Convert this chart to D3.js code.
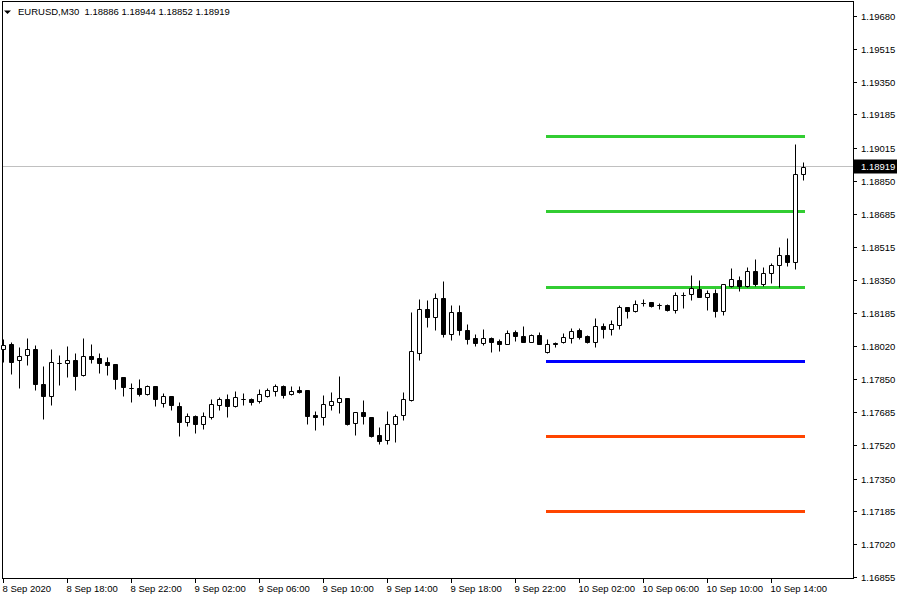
<!DOCTYPE html>
<html><head><meta charset="utf-8">
<script src="https://cdn.jsdelivr.net/npm/d3@7"></script>
<style>body{margin:0;background:#fff}svg{display:block;font-family:"Liberation Sans",Arial,sans-serif}</style>
</head><body><svg id="c" width="900" height="600"></svg>
<script>
const symbol = "EURUSD,M30";
const opens  = [1.18003,1.18028,1.17946,1.17971,1.18003,1.17827,1.17768,1.17933,1.17931,1.17948,1.17874,1.17968,1.17958,1.17939,1.17929,1.17862,1.17808,1.17807,1.17778,1.17817,1.17733,1.17766,1.17716,1.17637,1.17667,1.17624,1.17662,1.17723,1.17751,1.17718,1.17753,1.17751,1.17743,1.17768,1.17793,1.17818,1.17776,1.17797,1.17797,1.17672,1.17659,1.17723,1.17738,1.17756,1.17629,1.17684,1.17661,1.17568,1.17543,1.17624,1.17669,1.17746,1.17984,1.18204,1.18166,1.18260,1.18080,1.18189,1.18099,1.18058,1.18035,1.18058,1.18043,1.18030,1.18089,1.18068,1.18040,1.18074,1.17990,1.18035,1.18040,1.18057,1.18099,1.18068,1.18037,1.18119,1.18105,1.18125,1.18215,1.18196,1.18236,1.18240,1.18225,1.18225,1.18199,1.18277,1.18279,1.18305,1.18266,1.18284,1.18196,1.18320,1.18349,1.18320,1.18396,1.18329,1.18384,1.18425,1.18475,1.18443,1.18886];
const highs  = [1.18053,1.18038,1.18013,1.18058,1.18023,1.17917,1.18003,1.17973,1.18018,1.17983,1.18058,1.18028,1.17983,1.17963,1.17929,1.17862,1.17832,1.17852,1.17822,1.17817,1.17781,1.17766,1.17736,1.17679,1.17672,1.17687,1.17751,1.17761,1.17776,1.17792,1.17781,1.17756,1.17802,1.17807,1.17827,1.17822,1.17817,1.17817,1.17797,1.17689,1.17771,1.17787,1.17867,1.17756,1.17684,1.17746,1.17661,1.17609,1.17689,1.17674,1.17785,1.18189,1.18255,1.18250,1.18285,1.18346,1.18225,1.18225,1.18129,1.18079,1.18104,1.18063,1.18053,1.18099,1.18099,1.18119,1.18079,1.18089,1.18052,1.18040,1.18085,1.18107,1.18110,1.18073,1.18158,1.18135,1.18151,1.18225,1.18215,1.18250,1.18253,1.18240,1.18236,1.18230,1.18290,1.18292,1.18376,1.18351,1.18300,1.18304,1.18330,1.18412,1.18371,1.18417,1.18456,1.18415,1.18438,1.18515,1.18561,1.19035,1.18944];
const lows   = [1.17938,1.17877,1.17808,1.17924,1.17798,1.17649,1.17723,1.17823,1.17864,1.17798,1.17869,1.17934,1.17884,1.17874,1.17803,1.17768,1.17738,1.17768,1.17771,1.17718,1.17712,1.17697,1.17566,1.17617,1.17582,1.17602,1.17652,1.17697,1.17662,1.17712,1.17723,1.17723,1.17733,1.17761,1.17768,1.17758,1.17771,1.17780,1.17624,1.17597,1.17619,1.17694,1.17679,1.17622,1.17572,1.17627,1.17561,1.17526,1.17526,1.17536,1.17644,1.17741,1.17948,1.18115,1.18100,1.18065,1.18050,1.18075,1.18030,1.18020,1.18025,1.17990,1.17994,1.18028,1.18045,1.18040,1.18038,1.18030,1.17981,1.18012,1.18032,1.18035,1.18055,1.18032,1.18012,1.18057,1.18075,1.18105,1.18158,1.18191,1.18220,1.18213,1.18206,1.18193,1.18183,1.18212,1.18250,1.18266,1.18199,1.18166,1.18174,1.18317,1.18297,1.18317,1.18322,1.18322,1.18337,1.18317,1.18421,1.18404,1.18852];
const closes = [1.18023,1.17939,1.17968,1.18002,1.17825,1.17768,1.17936,1.17933,1.17946,1.17869,1.17968,1.17954,1.17934,1.17924,1.17853,1.17813,1.17808,1.17778,1.17817,1.17753,1.17766,1.17723,1.17637,1.17667,1.17624,1.17667,1.17726,1.17751,1.17718,1.17761,1.17753,1.17736,1.17776,1.17797,1.17817,1.17773,1.17793,1.17787,1.17667,1.17659,1.17726,1.17741,1.17756,1.17627,1.17684,1.17664,1.17566,1.17541,1.17625,1.17664,1.17750,1.17993,1.18204,1.18166,1.18260,1.18080,1.18189,1.18100,1.18055,1.18035,1.18057,1.18040,1.18030,1.18084,1.18070,1.18040,1.18074,1.18030,1.18027,1.18027,1.18062,1.18094,1.18065,1.18037,1.18119,1.18105,1.18129,1.18215,1.18196,1.18230,1.18234,1.18220,1.18225,1.18198,1.18275,1.18277,1.18309,1.18266,1.18284,1.18196,1.18329,1.18354,1.18320,1.18396,1.18330,1.18384,1.18425,1.18475,1.18443,1.18886,1.18919];
const priceTicks = [1.19680,1.19515,1.19350,1.19185,1.19015,1.18850,1.18685,1.18515,1.18350,1.18185,1.18020,1.17850,1.17685,1.17520,1.17350,1.17185,1.17020,1.16855];
const timeTickIndex = [0,8,16,24,32,40,48,56,64,72,80,88,96];
const timeTickLabels = ["8 Sep 2020","8 Sep 18:00","8 Sep 22:00","9 Sep 02:00","9 Sep 06:00","9 Sep 10:00","9 Sep 14:00","9 Sep 18:00","9 Sep 22:00","10 Sep 02:00","10 Sep 06:00","10 Sep 10:00","10 Sep 14:00"];
const levelValues = [1.19076,1.18698,1.18315,1.17943,1.17565,1.17187];
const levelNames  = ["R3","R2","R1","P","S1","S2"];
const levelColors = ["#32CD32","#32CD32","#32CD32","#0000FF","#FF4500","#FF4500"];
const levelStartIndex = 68;
const bidPrice = 1.18919;

const svg = d3.select("#c");
const n = opens.length;
const x = d3.scaleBand().domain(d3.range(n)).range([-1, -1 + 8*n]);
const cx = i => x(i) + x.bandwidth()/2;
const y = d3.scaleLinear().domain([1.16855, 1.19680]).range([577, 16]);
const py = v => Math.round(y(v)) + 0.5;
const fmt = d3.format(".5f");

const plotL = 2, plotT = 1, plotR = 853, plotB = 578;

// frame
svg.append("rect").attr("x", plotL+0.5).attr("y", plotT+0.5)
  .attr("width", plotR-plotL).attr("height", plotB-plotT)
  .attr("fill","none").attr("stroke","#000");

// bid line
svg.append("line").attr("x1", plotL+1).attr("x2", plotR).attr("y1", py(bidPrice)-1).attr("y2", py(bidPrice)-1)
  .attr("stroke","#C0C0C0").attr("stroke-width",1);

// pivot levels
const lv = svg.append("g");
levelValues.forEach((v,i) => {
  lv.append("line")
    .attr("x1", x(levelStartIndex)+3).attr("x2", x(n-1)+6)
    .attr("y1", py(v)).attr("y2", py(v))
    .attr("stroke", levelColors[i]).attr("stroke-width", 3)
    .attr("data-name", levelNames[i]);
});

// candles
const g = svg.append("g");
d3.range(n).forEach(i => {
  const c = Math.round(cx(i));
  g.append("line").attr("x1", c+0.5).attr("x2", c+0.5)
    .attr("y1", py(highs[i])).attr("y2", py(lows[i]))
    .attr("stroke","#000").attr("stroke-width",1);
  const t = py(Math.max(opens[i], closes[i])), b = py(Math.min(opens[i], closes[i]));
  const bull = closes[i] >= opens[i];
  const x0 = c - 1.5, x1 = c + 2.5;
  g.append("path").attr("d", `M${x0},${t}H${x1}V${b}H${x0}Z`)
    .attr("fill", bull ? "#fff" : "#000").attr("stroke","#000").attr("stroke-width",1);
});

// right axis
const ra = svg.append("g").attr("font-size", "9.5px").attr("fill","#000");
priceTicks.forEach(v => {
  const yy = Math.round(y(v)) + 0.5;
  ra.append("line").attr("x1", plotR).attr("x2", plotR+4).attr("y1", yy).attr("y2", yy).attr("stroke","#000");
  ra.append("text").attr("x", 861).attr("y", yy).attr("dy","0.35em").text(fmt(v));
});

// bid label
const by = py(bidPrice) - 1;
svg.append("rect").attr("x", plotR+1).attr("y", by-7).attr("width", 43).attr("height", 14).attr("fill","#000");
svg.append("text").attr("x", 861).attr("y", by).attr("dy","0.35em").attr("font-size","9.5px").attr("fill","#fff").text(fmt(bidPrice));

// bottom axis
const ba = svg.append("g").attr("font-size","9.5px").attr("fill","#000");
timeTickIndex.forEach((idx,k) => {
  const xx = Math.round(cx(idx)) + 0.5;
  ba.append("line").attr("x1", xx).attr("x2", xx).attr("y1", plotB).attr("y2", plotB+5).attr("stroke","#000");
  ba.append("text").attr("x", xx-1).attr("y", 592).text(timeTickLabels[k]);
});

// title
svg.append("path").attr("d","M4,10.5H11L7.5,14Z").attr("fill","#000");
svg.append("text").attr("x", 18).attr("y", 15).attr("font-size","9.5px").attr("fill","#000")
  .text(symbol + "\u00a0\u00a0" + [opens[n-1],highs[n-1],lows[n-1],closes[n-1]].map(fmt).join(" "));
</script></body></html>
